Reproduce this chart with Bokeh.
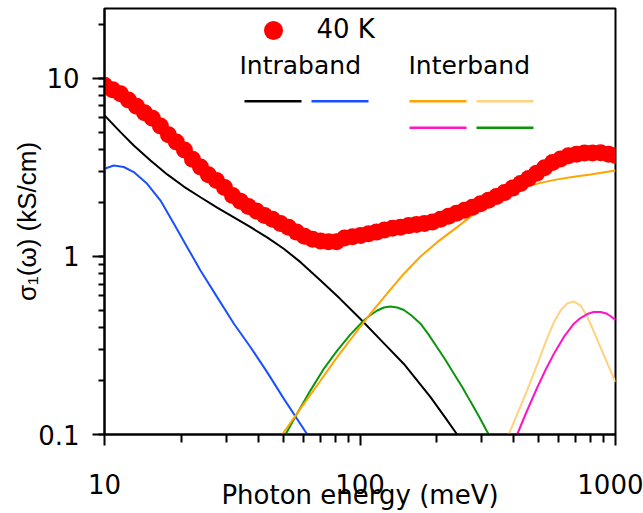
from bokeh.plotting import figure
from bokeh.models import Range1d, Label, BoxAnnotation, FixedTicker, LogTicker
from bokeh.embed import file_html
from bokeh.resources import INLINE

# ---- data ----
energy_40K = [10, 10.75, 11.55, 12.4, 13.35, 14.35, 15.4, 16.55, 17.8, 19.1, 20.55, 22.1,
              23.75, 25.5, 27.45, 29.5, 31.7, 34.05, 36.6, 39.35, 42.3, 45.45, 48.85, 52.5,
              56.45, 60.65, 65.2, 70.05, 75.3, 80.9, 87, 93.5, 100.5, 108, 116, 124.7, 134,
              144.1, 154.9, 166.4, 178.9, 192.2, 206.6, 222, 238.6, 256.5, 275.6, 296.3,
              318.4, 342.2, 367.9, 395.4, 424.9, 456.7, 490.9, 527.6, 567, 609.4, 654.6,
              703.8, 756.4, 812.8, 873.6, 938.9, 1000]
sigma_40K = [9.14, 8.65, 8.20, 7.57, 6.98, 6.41, 5.97, 5.41, 4.83, 4.40, 3.96, 3.52,
             3.18, 2.88, 2.67, 2.44, 2.20, 2.04, 1.91, 1.80, 1.70, 1.62, 1.53, 1.46,
             1.37, 1.30, 1.25, 1.22, 1.21, 1.21, 1.27, 1.29, 1.31, 1.34, 1.37, 1.41, 1.44,
             1.46, 1.49, 1.51, 1.53, 1.56, 1.62, 1.68, 1.75, 1.82, 1.89, 1.98,
             2.07, 2.17, 2.29, 2.42, 2.57, 2.74, 2.93, 3.15, 3.37, 3.53, 3.68,
             3.75, 3.81, 3.81, 3.82, 3.75, 3.69]

intra1_E = [10, 11.55, 13.02, 15.14, 17.6, 20.43, 23.75, 27.6, 32.1, 37.3, 43.3, 50.3,
            58.5, 70.1, 83.6, 100.2, 120.1, 148.5, 172.5, 188.8, 216, 240]
intra1_s = [6.20, 4.99, 4.20, 3.46, 2.89, 2.47, 2.15, 1.88, 1.66, 1.46, 1.28, 1.105,
            0.929, 0.733, 0.578, 0.447, 0.341, 0.249, 0.1905, 0.162, 0.124, 0.1]

intra2_E = [10, 10.87, 11.9, 13.02, 14.69, 16.57, 18.67, 21.07, 23.75, 27.6, 32.1, 37.3,
            43.3, 50.3, 62.2]
intra2_s = [3.11, 3.24, 3.18, 2.98, 2.56, 2.06, 1.53, 1.128, 0.834, 0.591, 0.419, 0.309,
            0.224, 0.159, 0.1]

inter1_E = [49.6, 60.3, 70.1, 81.4, 94.6, 109.9, 127.8, 148.5, 172.5, 200.5, 240, 278.9,
            324.4, 376.9, 437.6, 508.7, 591.3, 686.9, 798, 1000]
inter1_s = [0.1, 0.1487, 0.201, 0.272, 0.361, 0.477, 0.620, 0.800, 1.0, 1.203, 1.461, 1.729,
            2.02, 2.27, 2.45, 2.59, 2.71, 2.80, 2.89, 3.04]

inter2_E = [382, 413.4, 451, 494, 540, 573.5, 609.4, 647, 687, 729.5, 775, 822, 874, 934.6, 1000]
inter2_s = [0.1, 0.1312, 0.1767, 0.2474, 0.3463, 0.426, 0.497, 0.545, 0.559, 0.530, 0.460,
            0.379, 0.308, 0.246, 0.197]

inter3_E = [412, 451, 494, 532.1, 573.5, 627.8, 687, 729.5, 775, 822, 874, 922.2, 955, 1000]
inter3_s = [0.1, 0.1364, 0.1837, 0.2304, 0.2834, 0.353, 0.419, 0.451, 0.475, 0.488, 0.488,
            0.478, 0.463, 0.440]

inter4_E = [51.1, 56.9, 64.0, 71.9, 81.4, 91.8, 103.5, 109.9, 116.8, 124, 131.6, 139.8, 148.5,
            159.1, 172.5, 185.4, 200.5, 216.1, 232.8, 251.2, 270.7, 293.7, 319]
inter4_s = [0.1, 0.132, 0.177, 0.232, 0.296, 0.365, 0.437, 0.469, 0.497, 0.517, 0.524, 0.517,
            0.50, 0.466, 0.419, 0.365, 0.308, 0.262, 0.220, 0.185, 0.153, 0.1246, 0.1]

x_major = [10, 100, 1000]
x_major_labels = ["10", "100", "1000"]
x_minor = [20, 30, 40, 50, 60, 70, 80, 90, 200, 300, 400, 500, 600, 700, 800, 900]
y_major = [0.1, 1, 10]
y_major_labels = ["0.1", "1", "10"]

C_RED = "#ff0000"
C_BLACK = "#000000"
C_BLUE = "#1a50ff"
C_ORANGE = "#ffa500"
C_LORANGE = "#ffd27f"
C_MAGENTA = "#ff14c8"
C_GREEN = "#0a960a"

p = figure(width=643, height=513, x_axis_type="log", y_axis_type="log",
           x_range=Range1d(10, 1000), y_range=Range1d(0.1, 24.7),
           output_backend="svg", toolbar_location=None,
           min_border_left=104, min_border_right=28, min_border_top=8, min_border_bottom=79)
p.background_fill_color = "white"
p.border_fill_color = "white"
p.outline_line_color = "black"
p.outline_line_width = 2
p.xgrid.visible = False
p.ygrid.visible = False

p.xaxis.ticker = FixedTicker(ticks=x_major, minor_ticks=x_minor)
p.yaxis.ticker = LogTicker(num_minor_ticks=10)
p.xaxis.major_label_overrides = {t: s for t, s in zip(x_major, x_major_labels)}
p.yaxis.major_label_overrides = {t: s for t, s in zip(y_major, y_major_labels)}

for ax in (p.xaxis[0], p.yaxis[0]):
    ax.axis_line_width = 2
    ax.axis_line_color = "black"
    ax.major_tick_line_width = 2
    ax.minor_tick_line_width = 2
    ax.major_tick_line_color = "black"
    ax.minor_tick_line_color = "black"
    ax.major_tick_in = 0
    ax.minor_tick_in = 0
    ax.major_label_text_font = "DejaVu Sans"
    ax.major_label_text_font_size = "26px"
    ax.major_label_text_color = "black"
    ax.axis_label_text_font_style = "normal"
    ax.axis_label_text_color = "black"

p.xaxis.major_tick_out = 11
p.xaxis.minor_tick_out = 8
p.xaxis.major_label_standoff = 28
p.xaxis.axis_label = "Photon energy (meV)"
p.xaxis.axis_label_text_font = "DejaVu Sans"
p.xaxis.axis_label_text_font_size = "26px"
p.xaxis.axis_label_standoff = -17

p.yaxis.major_tick_out = 12
p.yaxis.minor_tick_out = 6
p.yaxis.major_label_standoff = 13
p.yaxis.axis_label = "σ₁(ω) (kS/cm)"
p.yaxis.axis_label_text_font = "Liberation Sans"
p.yaxis.axis_label_text_font_size = "26px"
p.yaxis.axis_label_standoff = -7

lw = 2
p.line(intra1_E, intra1_s, line_color=C_BLACK, line_width=lw)
p.line(intra2_E, intra2_s, line_color=C_BLUE, line_width=lw)
p.line(inter4_E, inter4_s, line_color=C_GREEN, line_width=lw)
p.line(inter1_E, inter1_s, line_color=C_ORANGE, line_width=lw)
p.line(inter2_E, inter2_s, line_color=C_LORANGE, line_width=lw)
p.line(inter3_E, inter3_s, line_color=C_MAGENTA, line_width=lw)
p.scatter(energy_40K, sigma_40K, size=17, fill_color=C_RED, line_color=None)

# ---- legend (canvas coordinates) ----
def box(l, r, t, b, color, radius=0):
    p.add_layout(BoxAnnotation(left=l, right=r, top=t, bottom=b,
                               left_units="canvas", right_units="canvas",
                               top_units="canvas", bottom_units="canvas",
                               fill_color=color, fill_alpha=1, line_color=None,
                               border_radius=radius))

def text(x, y, s, size, align="left"):
    p.add_layout(Label(x=x, y=y, x_units="canvas", y_units="canvas", text=s,
                       text_font="DejaVu Sans", text_font_size=size, text_align=align,
                       text_color="black", text_baseline="alphabetic"))

box(263.5, 282.5, 20.5, 39.5, C_RED, 10)
text(316, 28.5, "40 K", "26px")
text(239, 64.5, "Intraband", "25px")
text(408, 64.5, "Interband", "25px")
box(244, 301, 99.5, 102, C_BLACK)
box(311, 368, 99.5, 102, C_BLUE)
box(409, 466, 99.5, 102, C_ORANGE)
box(476, 533, 99.5, 102, C_LORANGE)
box(409, 466, 126, 128.5, C_MAGENTA)
box(476, 533, 126, 128.5, C_GREEN)

open("out.html", "w").write(file_html(p, INLINE))
